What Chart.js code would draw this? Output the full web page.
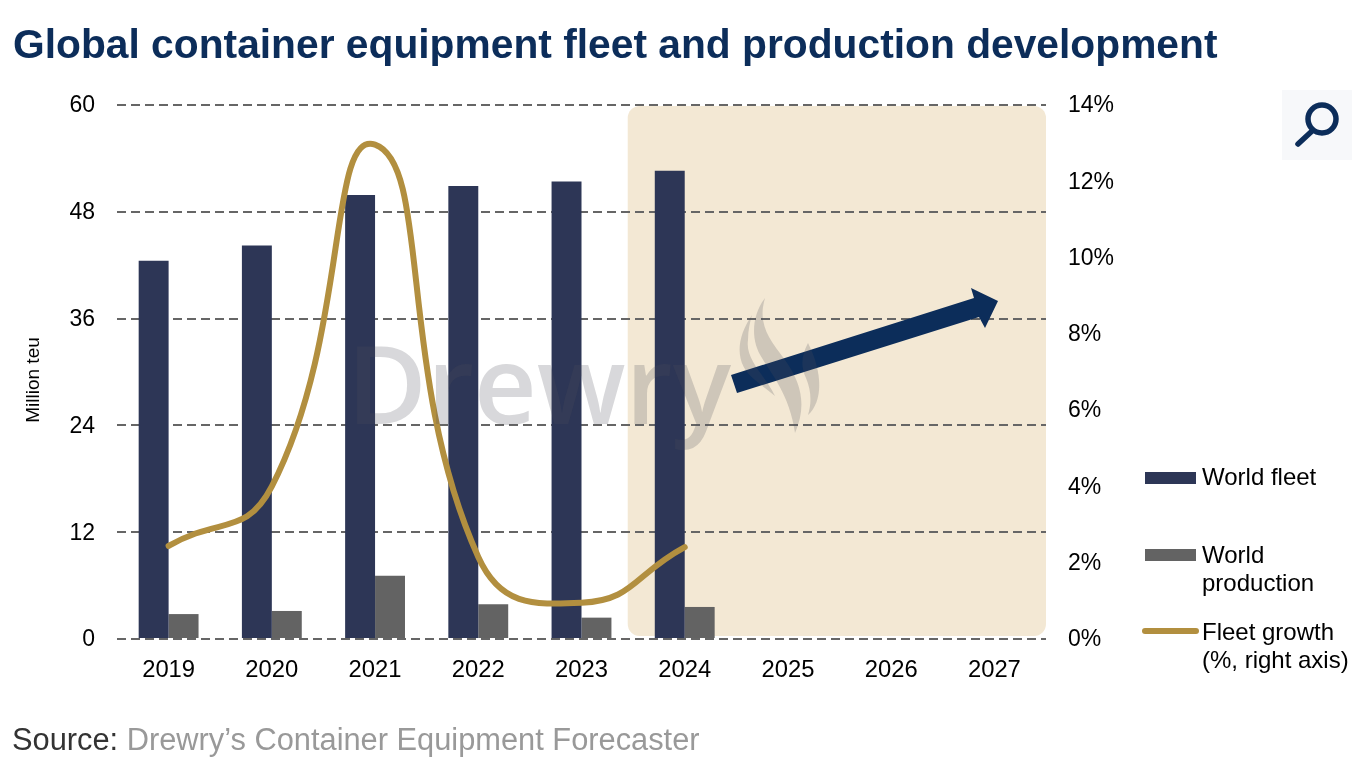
<!DOCTYPE html>
<html>
<head>
<meta charset="utf-8">
<title>Global container equipment fleet and production development</title>
<script src="https://cdn.jsdelivr.net/npm/chart.js@4/dist/chart.umd.min.js"></script>
<style>
  body { margin: 0; background: #fff; width: 1372px; height: 760px; overflow: hidden; position: relative;
         font-family: "Liberation Sans", Arial, sans-serif; }
  #myChart { position: absolute; left: 0; top: 0; }
  #overlay { position: absolute; left: 0; top: 0; pointer-events: none; }
  .txt { position: absolute; white-space: nowrap; }
  #title { left: 13px; top: 20px; font-size: 40.75px; font-weight: bold; color: #0c2d5a; line-height: 48px; }
  #source { left: 12px; top: 722px; font-size: 30.8px; line-height: 36px; color: #999; }
  #source span { color: #333; }
  #ytitle { left: 33px; top: 380px; font-size: 19px; line-height: 22px; color: #000; transform: translate(-50%, -50%) rotate(-90deg); }
  .legtext { left: 1202px; font-size: 24px; line-height: 28px; color: #000; }
  .swatch { position: absolute; left: 1145px; width: 51px; height: 12px; }
  #legline { position: absolute; left: 1142px; top: 628px; width: 57px; height: 6px; border-radius: 3px; background: #b28f3f; }
</style>
</head>
<body>
<canvas id="myChart" width="1372" height="760"></canvas>

<svg id="overlay" width="1372" height="760" xmlns="http://www.w3.org/2000/svg">
  <polygon fill="#0c2d5a" points="731,375 974,298 971,288 998,301 985,328 979,317 737,393"/>
  <!-- watermark sits on top of everything -->
  <g fill="#50505a" opacity="0.22">
    <text x="347" y="424" font-family="'Open Sans'" font-size="109" font-weight="600">Drewry</text>
    <path d="M765,298 C752,315 750,340 762,358 C770,372 790,395 795,433 C806,408 803,385 785,360 C770,340 757,325 765,298 Z"/>
    <path d="M752,315 C735,340 735,365 755,380 C762,386 770,392 775,396 C765,375 745,360 748,340 C748,330 750,322 752,315 Z"/>
    <path d="M808,343 C802,355 800,365 806,378 C811,390 812,402 808,415 C822,402 824,375 808,343 Z"/>
  </g>
  <!-- magnifier button -->
  <rect x="1282" y="90" width="70" height="70" fill="#f7f8fa"/>
  <circle cx="1322" cy="119" r="14" fill="none" stroke="#0c2d5a" stroke-width="5.5"/>
  <line x1="1311" y1="132" x2="1298" y2="144" stroke="#0c2d5a" stroke-width="5.5" stroke-linecap="round"/>
</svg>

<div id="title" class="txt">Global container equipment fleet and production development</div>
<div id="source" class="txt"><span>Source:</span> Drewry’s Container Equipment Forecaster</div>
<div id="ytitle" class="txt">Million teu</div>

<div class="swatch" style="top:472px;background:#2d3656"></div>
<div class="txt legtext" style="top:463px">World fleet</div>
<div class="swatch" style="top:549px;background:#636363"></div>
<div class="txt legtext" style="top:541px">World<br>production</div>
<div id="legline"></div>
<div class="txt legtext" style="top:618px">Fleet growth<br>(%, right axis)</div>

<script>
'use strict';

// Values
const years = ['2019', '2020', '2021', '2022', '2023', '2024', '2025', '2026', '2027'];
const worldFleet = [42.5, 44.2, 49.9, 50.9, 51.4, 52.6, null, null, null];
const worldProduction = [2.8, 3.15, 7.1, 3.9, 2.4, 3.6, null, null, null];
const fleetGrowth = [2.44, 4.0, 12.96, 2.15, 0.95, 2.41, null, null, null];
const leftTicks = [0, 12, 24, 36, 48, 60];
const rightTicks = [0, 2, 4, 6, 8, 10, 12, 14];

const fontFamily = '"Liberation Sans", Arial, sans-serif';

// Forecast background, drawn under the grid
const forecastBand = {
   id: 'forecastBand',
   beforeDraw: function (chart) {
      const area = chart.chartArea;
      const x = chart.scales.x;
      const left = x.getPixelForValue(5) - 57;
      const ctx = chart.ctx;
      ctx.save();
      ctx.fillStyle = '#f3e8d4';
      ctx.beginPath();
      ctx.roundRect(left, area.top + 1, area.right - left, area.bottom - area.top - 4, 12);
      ctx.fill();
      ctx.restore();
   }
};

new Chart(document.getElementById('myChart'), {
   data: {
      labels: years,
      datasets: [
         { type: 'line', label: 'Fleet growth (%, right axis)', data: fleetGrowth, yAxisID: 'y1', order: 0,
           borderColor: '#b28f3f', borderWidth: 6, borderCapStyle: 'round', pointRadius: 0, tension: 0.5 },
         { type: 'bar', label: 'World fleet', data: worldFleet, yAxisID: 'y', order: 1,
           backgroundColor: '#2d3656', categoryPercentage: 0.58, barPercentage: 1 },
         { type: 'bar', label: 'World production', data: worldProduction, yAxisID: 'y', order: 1,
           backgroundColor: '#636363', categoryPercentage: 0.58, barPercentage: 1 }
      ]
   },
   options: {
      responsive: false,
      animation: false,
      layout: { padding: { top: 105, bottom: 0, left: 0, right: 0 } },
      plugins: { legend: { display: false }, tooltip: { enabled: false } },
      scales: {
         x: {
            grid: { display: false },
            border: { display: false },
            ticks: { color: '#000', font: { family: fontFamily, size: 23.8 }, padding: 9, maxRotation: 0 },
            afterFit: function (scale) { scale.height = 121; }
         },
         y: {
            position: 'left',
            min: 0,
            max: 60,
            afterBuildTicks: function (scale) { scale.ticks = leftTicks.map(function (v) { return { value: v }; }); },
            grid: { color: '#666', lineWidth: 2, drawTicks: false },
            border: { display: false, dash: [9, 5] },
            ticks: { color: '#000', font: { family: fontFamily, size: 23 }, padding: 22, labelOffset: 1 },
            afterFit: function (scale) { scale.width = 117; }
         },
         y1: {
            position: 'right',
            min: 0,
            max: 14,
            afterBuildTicks: function (scale) { scale.ticks = rightTicks.map(function (v) { return { value: v }; }); },
            grid: { display: false, drawOnChartArea: false },
            border: { display: false },
            ticks: { color: '#000', font: { family: fontFamily, size: 23 }, padding: 14, labelOffset: 1, callback: function (v) { return v + '%'; } },
            afterFit: function (scale) { scale.width = 326; }
         }
      }
   },
   plugins: [forecastBand]
});
</script>
</body>
</html>
